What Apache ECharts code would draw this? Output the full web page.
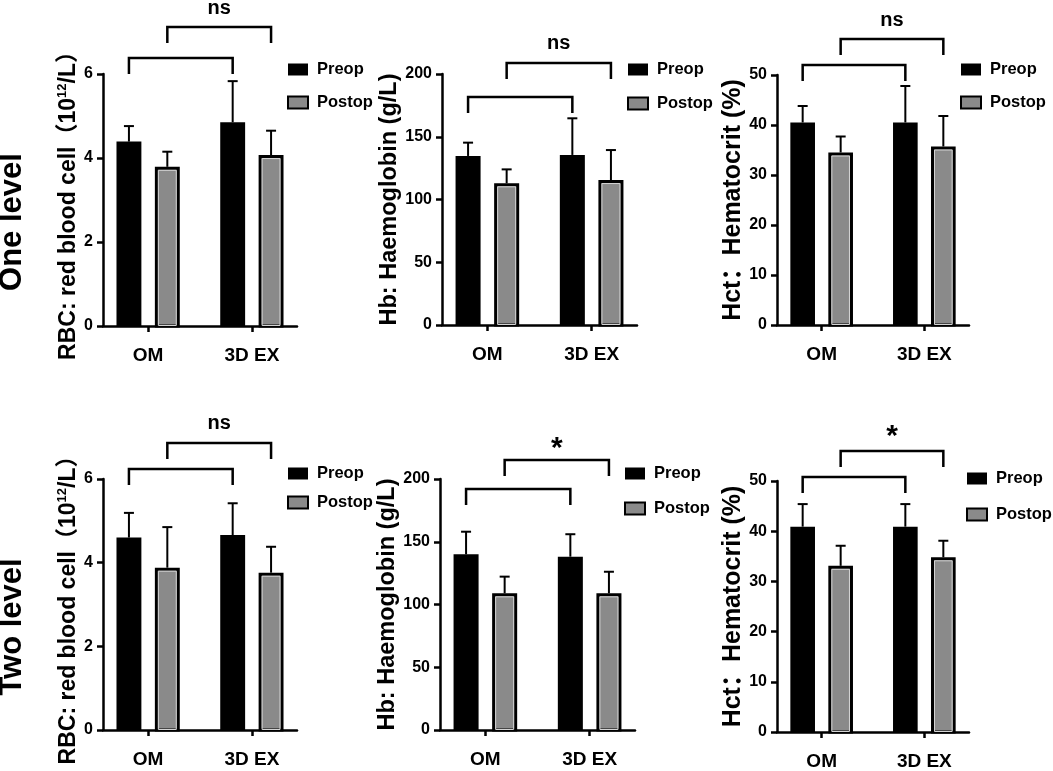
<!DOCTYPE html>
<html>
<head>
<meta charset="utf-8">
<title>RBC / Hb / Hct, one level vs two level</title>
<script src="https://cdn.jsdelivr.net/npm/echarts@6/dist/echarts.min.js"></script>
<style>
  html, body { margin: 0; padding: 0; background: #fff; }
  #chart { width: 1053px; height: 771px; }
</style>
</head>
<body>
<div id="chart"></div>
<script>
const GROUPS = ['OM', '3D EX'];

// one level
const rbcOnePreop = [4.39, 4.85];
const rbcOnePreopSd = [0.37, 0.98];
const rbcOnePostop = [3.79, 4.07];
const rbcOnePostopSd = [0.36, 0.58];

const hbOnePreop = [134.7, 135.5];
const hbOnePreopSd = [10.6, 29.2];
const hbOnePostop = [112.9, 115.5];
const hbOnePostopSd = [11.1, 23.9];

const hctOnePreop = [40.5, 40.5];
const hctOnePreopSd = [3.3, 7.3];
const hctOnePostop = [34.5, 35.7];
const hctOnePostopSd = [3.2, 6.1];

// two level
const rbcTwoPreop = [4.60, 4.66];
const rbcTwoPreopSd = [0.59, 0.76];
const rbcTwoPostop = [3.88, 3.76];
const rbcTwoPostopSd = [0.97, 0.62];

const hbTwoPreop = [140.0, 138.1];
const hbTwoPreopSd = [18.0, 17.9];
const hbTwoPostop = [108.9, 108.9];
const hbTwoPostopSd = [13.3, 17.2];

const hctTwoPreop = [40.9, 40.9];
const hctTwoPreopSd = [4.5, 4.5];
const hctTwoPostop = [33.1, 34.8];
const hctTwoPostopSd = [4.0, 3.3];

const SIG_LABELS = ['ns', 'ns', 'ns', 'ns', '*', '*'];

const RBC_NAME = 'RBC: red blood cell（10{sup|12}/L）';
const HB_NAME = 'Hb: Haemoglobin (g/L)';
const HCT_NAME = 'Hct：Hematocrit (%)';

const NARROW = '"Liberation Sans Narrow", "Liberation Sans", Arial, sans-serif';
const SANS = '"Liberation Sans", Arial, "Noto Sans CJK SC", sans-serif';

const BAR_WIDTH = 0.48;      // in x-axis units
const BAR_OFFSET = 0.37;     // bar centre distance from group centre
const BRACKET_DROP = 16;     // px
const POSTOP_GRAY = '#8a8a8a';

// layout of each panel (px), brackets are relative to the top of the y axis
const PANELS = [
  { left: 103, top: 74, width: 194, height: 252, yMax: 6, yStep: 2, name: RBC_NAME, nameSize: 23, nameGap: 18,
    preop: rbcOnePreop, preopSd: rbcOnePreopSd, postop: rbcOnePostop, postopSd: rbcOnePostopSd,
    legendLeft: 287, legendTop: 61, legendGap: 16, bracket: [-16, -47, -66] },
  { left: 442, top: 74, width: 195, height: 251, yMax: 200, yStep: 50, name: HB_NAME, nameSize: 23.5, nameGap: 33,
    preop: hbOnePreop, preopSd: hbOnePreopSd, postop: hbOnePostop, postopSd: hbOnePostopSd,
    legendLeft: 627, legendTop: 61, legendGap: 17, bracket: [23, -11, -31] },
  { left: 777, top: 75, width: 192, height: 250, yMax: 50, yStep: 10, name: HCT_NAME, nameSize: 25, nameGap: 28,
    preop: hctOnePreop, preopSd: hctOnePreopSd, postop: hctOnePostop, postopSd: hctOnePostopSd,
    legendLeft: 960, legendTop: 61, legendGap: 16, bracket: [-10, -36, -55] },
  { left: 103, top: 479, width: 194, height: 251, yMax: 6, yStep: 2, name: RBC_NAME, nameSize: 23, nameGap: 20,
    preop: rbcTwoPreop, preopSd: rbcTwoPreopSd, postop: rbcTwoPostop, postopSd: rbcTwoPostopSd,
    legendLeft: 287, legendTop: 465, legendGap: 12, bracket: [-10, -36, -56] },
  { left: 440, top: 479, width: 195, height: 251, yMax: 200, yStep: 50, name: HB_NAME, nameSize: 23.5, nameGap: 31,
    preop: hbTwoPreop, preopSd: hbTwoPreopSd, postop: hbTwoPostop, postopSd: hbTwoPostopSd,
    legendLeft: 624, legendTop: 465, legendGap: 18, bracket: [10, -19, -36] },
  { left: 777, top: 481, width: 192, height: 251, yMax: 50, yStep: 10, name: HCT_NAME, nameSize: 25, nameGap: 28,
    preop: hctTwoPreop, preopSd: hctTwoPreopSd, postop: hctTwoPostop, postopSd: hctTwoPostopSd,
    legendLeft: 966, legendTop: 470, legendGap: 19, bracket: [-4, -30, -50] }
];

function groupPos(i) {
  return 1 + 2 * i;
}

function makeBarRenderer(offset, isPostop) {
  return function (params, api) {
    const x = groupPos(api.value(0)) + offset;
    const mean = api.value(1);
    const sd = api.value(2);
    const base = api.coord([x, 0]);
    const top = api.coord([x, mean]);
    const errTop = api.coord([x, mean + sd]);
    const w = api.size([BAR_WIDTH, 0])[0];
    const cx = base[0];
    const errStyle = { stroke: '#000', lineWidth: 2, fill: null };

    const children = [
      { type: 'line', shape: { x1: cx, y1: top[1], x2: cx, y2: errTop[1] }, style: errStyle },
      { type: 'line', shape: { x1: cx - 5, y1: errTop[1], x2: cx + 5, y2: errTop[1] }, style: errStyle }
    ];
    if (isPostop) {
      children.push({
        type: 'rect',
        shape: { x: cx - w / 2 + 1.5, y: top[1] + 1.5, width: w - 3, height: base[1] - top[1] - 1.5 },
        style: { fill: POSTOP_GRAY, stroke: '#000', lineWidth: 3 }
      });
      children.push({
        type: 'rect',
        shape: { x: cx - w / 2 + 3.5, y: top[1] + 3.5, width: w - 7, height: base[1] - top[1] - 4 },
        style: { fill: null, stroke: '#d4d4d4', lineWidth: 1 }
      });
    } else {
      children.push({
        type: 'rect',
        shape: { x: cx - w / 2, y: top[1], width: w, height: base[1] - top[1] },
        style: { fill: '#000' }
      });
    }
    return { type: 'group', children };
  };
}

function makeBracketRenderer(panel, idx) {
  return function (params, api) {
    const yTop = api.coord([1, panel.yMax])[1];
    const px = (g, off) => api.coord([groupPos(g) + off, 0])[0];
    const lowY = yTop + panel.bracket[0];
    const upY = yTop + panel.bracket[1];
    const style = { stroke: '#000', lineWidth: 2.5, fill: null };
    const bracket = (x1, x2, y) => ({
      type: 'polyline',
      shape: { points: [[x1, y + BRACKET_DROP], [x1, y], [x2, y], [x2, y + BRACKET_DROP]] },
      style
    });
    const isStar = SIG_LABELS[idx] === '*';
    return {
      type: 'group',
      children: [
        bracket(px(0, -BAR_OFFSET), px(1, -BAR_OFFSET), lowY),
        bracket(px(0, BAR_OFFSET), px(1, BAR_OFFSET), upY),
        {
          type: 'text',
          x: (px(0, BAR_OFFSET) + px(1, BAR_OFFSET)) / 2,
          y: yTop + panel.bracket[2] + (isStar ? 6 : 0),
          style: {
            text: SIG_LABELS[idx],
            fill: '#000',
            font: 'bold ' + (isStar ? 30 : 20) + 'px ' + NARROW,
            align: 'center',
            verticalAlign: 'middle'
          }
        }
      ]
    };
  };
}

const grid = [];
const xAxis = [];
const yAxis = [];
const series = [];
const legend = [];

PANELS.forEach((p, idx) => {
  grid.push({ left: p.left, top: p.top, width: p.width, height: p.height });

  xAxis.push({
    gridIndex: idx,
    type: 'value',
    min: 0.13,
    max: 3.87,
    splitLine: { show: false },
    axisLine: { show: true, onZero: false, lineStyle: { color: '#000', width: 2.5 } },
    axisTick: { show: true, customValues: [1, 3], length: 6, lineStyle: { color: '#000', width: 2.5 } },
    axisLabel: {
      customValues: [1, 3],
      formatter: (v) => GROUPS[(v - 1) / 2],
      color: '#000',
      fontFamily: NARROW,
      fontWeight: 'bold',
      fontSize: 19,
      margin: 20
    }
  });

  yAxis.push({
    gridIndex: idx,
    type: 'value',
    min: 0,
    max: p.yMax,
    interval: p.yStep,
    splitLine: { show: false },
    axisLine: { show: true, lineStyle: { color: '#000', width: 2.5 } },
    axisTick: { show: true, length: 6, lineStyle: { color: '#000', width: 2.5 } },
    axisLabel: { color: '#000', fontFamily: NARROW, fontWeight: 'bold', fontSize: 16, margin: 10 },
    name: p.name,
    nameLocation: 'middle',
    nameRotate: 90,
    nameGap: p.nameGap,
    nameTextStyle: {
      color: '#000',
      fontFamily: SANS,
      fontWeight: 'bold',
      fontSize: p.nameSize,
      rich: {
        sup: { fontFamily: SANS, fontWeight: 'bold', fontSize: 13, padding: [0, 0, 12, 0] }
      }
    }
  });

  const toData = (means, sds) => means.map((m, i) => [i, m, sds[i]]);

  series.push({
    name: 'Preop',
    type: 'custom',
    xAxisIndex: idx,
    yAxisIndex: idx,
    clip: false,
    itemStyle: { color: '#000' },
    renderItem: makeBarRenderer(-BAR_OFFSET, false),
    encode: { x: 0, y: 1 },
    data: toData(p.preop, p.preopSd)
  });
  series.push({
    name: 'Postop',
    type: 'custom',
    xAxisIndex: idx,
    yAxisIndex: idx,
    clip: false,
    itemStyle: { color: POSTOP_GRAY },
    renderItem: makeBarRenderer(BAR_OFFSET, true),
    encode: { x: 0, y: 1 },
    data: toData(p.postop, p.postopSd)
  });
  series.push({
    type: 'custom',
    xAxisIndex: idx,
    yAxisIndex: idx,
    clip: false,
    silent: true,
    renderItem: makeBracketRenderer(p, idx),
    data: [[1, 0]]
  });

  legend.push({
    orient: 'vertical',
    left: p.legendLeft,
    top: p.legendTop,
    padding: 0,
    itemWidth: 20,
    itemHeight: 12,
    itemGap: p.legendGap,
    selectedMode: false,
    textStyle: { color: '#000', fontFamily: NARROW, fontWeight: 'bold', fontSize: 16.5, padding: [0, 0, 0, 4] },
    data: [
      { name: 'Preop', icon: 'rect', itemStyle: { color: '#000', borderWidth: 0 } },
      { name: 'Postop', icon: 'rect', itemStyle: { color: POSTOP_GRAY, borderColor: '#000', borderWidth: 2 } }
    ]
  });
});

const chart = echarts.init(document.getElementById('chart'), null, { renderer: 'canvas' });
chart.setOption({
  animation: false,
  backgroundColor: '#fff',
  grid,
  xAxis,
  yAxis,
  legend,
  series,
  graphic: [
    {
      type: 'text', x: 12, y: 222, rotation: Math.PI / 2,
      style: { text: 'One level', fill: '#000', font: 'bold 31px ' + SANS, align: 'center', verticalAlign: 'middle' }
    },
    {
      type: 'text', x: 12, y: 627, rotation: Math.PI / 2,
      style: { text: 'Two level', fill: '#000', font: 'bold 31px ' + SANS, align: 'center', verticalAlign: 'middle' }
    }
  ]
});
</script>
</body>
</html>
